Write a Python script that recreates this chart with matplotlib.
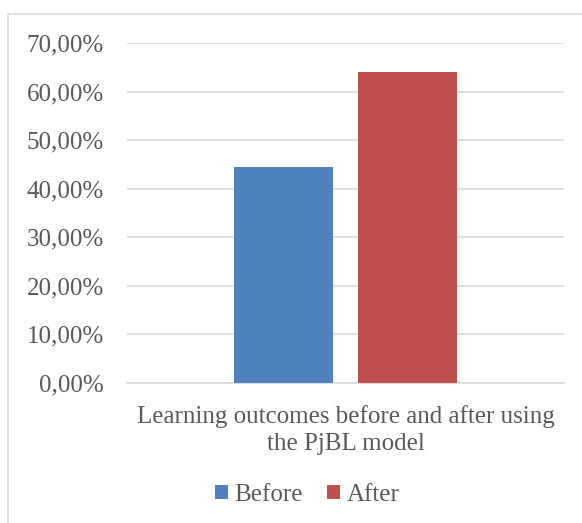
import matplotlib
matplotlib.use("Agg")
import matplotlib.pyplot as plt
from matplotlib.patches import Rectangle
from matplotlib.ticker import FuncFormatter

category = ["Learning outcomes before and after using\nthe PjBL model"]
series = ["Before", "After"]
values = [0.444, 0.640]
colors = ["#4F81BD", "#C0504D"]

W, H = 582, 523
fig = plt.figure(figsize=(W / 100, H / 100), dpi=100)
plt.rcParams['font.family'] = ['Liberation Serif', 'DejaVu Serif']

# outer chart border
fig.patches.append(Rectangle((8 / W, -0.1), 1.2, (H - 14) / H + 0.1,
                             transform=fig.transFigure, fill=False,
                             edgecolor="#d9d9d9", linewidth=1.2))

left, right, top, bottom = 127, 564, 43, 383
ax = fig.add_axes([left / W, 1 - bottom / H, (right - left) / W, (bottom - top) / H])

bw = 0.2265
gap = 0.057
for i, (s, v, c) in enumerate(zip(series, values, colors)):
    off = (i - 0.5) * (bw + gap)
    ax.bar(0 + off, v, width=bw, color=c, label=s, zorder=3)

ax.set_xlim(-0.5, 0.5)
ax.set_ylim(0, 0.70)
ax.set_yticks([i / 10 for i in range(8)])
ax.yaxis.set_major_formatter(FuncFormatter(lambda y, _: f"{y*100:.2f}%".replace(".", ",")))
ax.set_xticks([0])
ax.set_xticklabels(category, linespacing=1.3)
ax.grid(axis="y", color="#d9d9d9", linewidth=1.2, zorder=0)
for sp in ["top", "right", "left"]:
    ax.spines[sp].set_visible(False)
ax.spines["bottom"].set_color("#d9d9d9")
ax.spines["bottom"].set_linewidth(1.2)
ax.tick_params(axis="both", length=0, colors="#595959", labelsize=18)
ax.tick_params(axis="y", pad=16.5)
ax.tick_params(axis="x", pad=16)

leg = fig.legend(loc="center", bbox_to_anchor=(307 / W, 1 - 495 / H), ncol=2,
                 frameon=False, fontsize=18, handlelength=0.52, handleheight=0.52,
                 handletextpad=0.24, columnspacing=1.0, labelcolor="#595959")

fig.savefig("out.png", dpi=100)
